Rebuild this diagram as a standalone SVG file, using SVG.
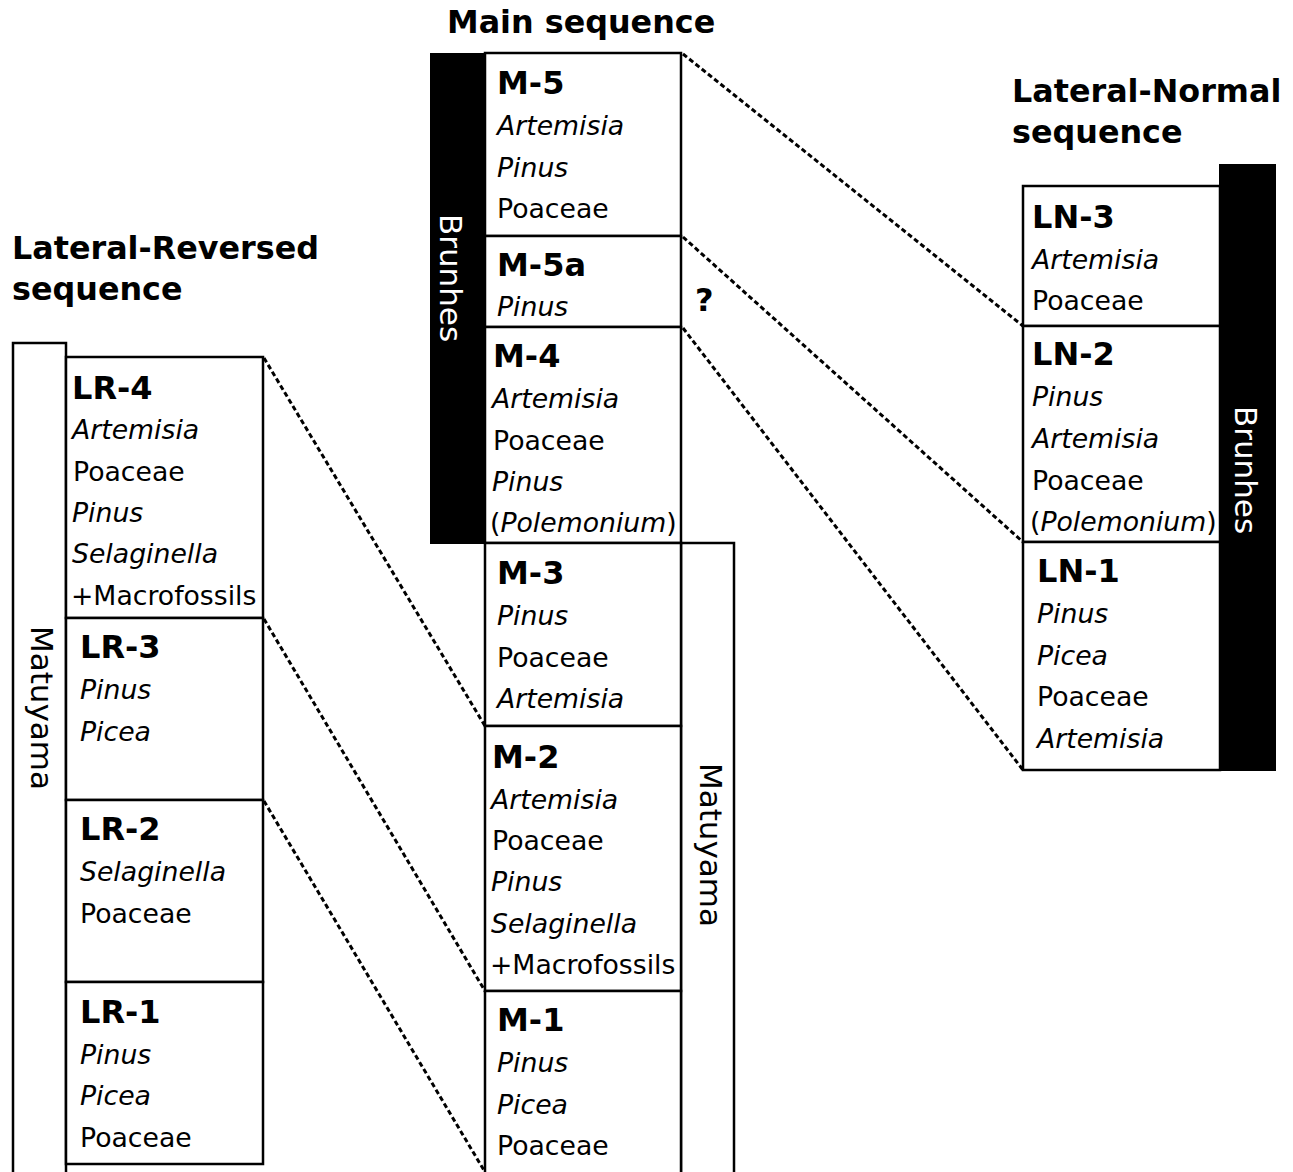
<svg xmlns="http://www.w3.org/2000/svg" width="1293" height="1172" viewBox="0 0 1293 1172">
<style>
text{font-family:"DejaVu Sans",sans-serif;font-size:26.7px;fill:#000}
.t{font-size:31.8px;font-weight:bold}
.h{font-size:32px;font-weight:bold}
.v{font-size:31px}
.i{font-style:italic}
.box{fill:#fff;stroke:#000;stroke-width:2.5}
.bk{fill:#000;stroke:#000;stroke-width:2}
.wt{fill:#fff}
.con line{stroke:#000;stroke-width:3;stroke-dasharray:5 3;fill:none}
</style>
<rect width="1293" height="1172" fill="#fff"/>

<g id="titles">
<text class="t" x="447" y="33">Main sequence</text>
<text class="t" x="12" y="259">Lateral-Reversed</text>
<text class="t" x="12" y="300">sequence</text>
<text class="t" x="1012" y="102">Lateral-Normal</text>
<text class="t" x="1012" y="143">sequence</text>
</g>

<g id="main-brunhes">
<rect class="bk" x="431" y="54" width="54" height="489"/>
<text class="wt v" transform="translate(440,278) rotate(90)" text-anchor="middle">Brunhes</text>
</g>
<g id="main-matuyama">
<rect class="box" x="681" y="543" width="53" height="640"/>
<text class="v" transform="translate(700,845) rotate(90)" text-anchor="middle">Matuyama</text>
</g>

<g id="M-5">
<rect class="box" x="485" y="53" width="196" height="183"/>
<text class="h" x="497" y="94">M-5</text>
<text class="i" x="497" y="135">Artemisia</text>
<text class="i" x="497" y="177">Pinus</text>
<text x="497" y="218">Poaceae</text>
</g>
<g id="M-5a">
<rect class="box" x="485" y="236" width="196" height="91"/>
<text class="h" x="497" y="276">M-5a</text>
<text class="i" x="497" y="316">Pinus</text>
</g>
<g id="M-4">
<rect class="box" x="485" y="327" width="196" height="216"/>
<text class="h" x="493" y="367">M-4</text>
<text class="i" x="492" y="408">Artemisia</text>
<text x="493" y="450">Poaceae</text>
<text class="i" x="492" y="491">Pinus</text>
<text x="490" y="532">(<tspan class="i">Polemonium</tspan>)</text>
</g>
<g id="M-3">
<rect class="box" x="485" y="543" width="196" height="183"/>
<text class="h" x="497" y="584">M-3</text>
<text class="i" x="497" y="625">Pinus</text>
<text x="497" y="667">Poaceae</text>
<text class="i" x="497" y="708">Artemisia</text>
</g>
<g id="M-2">
<rect class="box" x="485" y="726" width="196" height="265"/>
<text class="h" x="492" y="768">M-2</text>
<text class="i" x="491" y="809">Artemisia</text>
<text x="492" y="850">Poaceae</text>
<text class="i" x="491" y="891">Pinus</text>
<text class="i" x="491" y="933">Selaginella</text>
<text x="490" y="974">+Macrofossils</text>
</g>
<g id="M-1">
<rect class="box" x="485" y="991" width="196" height="192"/>
<text class="h" x="497" y="1031">M-1</text>
<text class="i" x="497" y="1072">Pinus</text>
<text class="i" x="497" y="1114">Picea</text>
<text x="497" y="1155">Poaceae</text>
</g>
<text class="h" x="695" y="311" id="q">?</text>

<g id="lr-matuyama">
<rect class="box" x="13" y="343" width="53" height="840"/>
<text class="v" transform="translate(31,708) rotate(90)" text-anchor="middle">Matuyama</text>
</g>
<g id="LR-4">
<rect class="box" x="66" y="357" width="197" height="261"/>
<text class="h" x="72" y="399">LR-4</text>
<text class="i" x="72" y="439">Artemisia</text>
<text x="73" y="481">Poaceae</text>
<text class="i" x="72" y="522">Pinus</text>
<text class="i" x="72" y="563">Selaginella</text>
<text x="71" y="605">+Macrofossils</text>
</g>
<g id="LR-3">
<rect class="box" x="66" y="618" width="197" height="182"/>
<text class="h" x="80" y="658">LR-3</text>
<text class="i" x="80" y="699">Pinus</text>
<text class="i" x="80" y="741">Picea</text>
</g>
<g id="LR-2">
<rect class="box" x="66" y="800" width="197" height="182"/>
<text class="h" x="80" y="840">LR-2</text>
<text class="i" x="80" y="881">Selaginella</text>
<text x="80" y="923">Poaceae</text>
</g>
<g id="LR-1">
<rect class="box" x="66" y="982" width="197" height="182"/>
<text class="h" x="80" y="1023">LR-1</text>
<text class="i" x="80" y="1064">Pinus</text>
<text class="i" x="80" y="1105">Picea</text>
<text x="80" y="1147">Poaceae</text>
</g>

<g id="ln-brunhes">
<rect class="bk" x="1220" y="165" width="55" height="605"/>
<text class="wt v" transform="translate(1235,470) rotate(90)" text-anchor="middle">Brunhes</text>
</g>
<g id="LN-3">
<rect class="box" x="1023" y="186" width="197" height="140"/>
<text class="h" x="1032" y="228">LN-3</text>
<text class="i" x="1032" y="269">Artemisia</text>
<text x="1032" y="310">Poaceae</text>
</g>
<g id="LN-2">
<rect class="box" x="1023" y="326" width="197" height="216"/>
<text class="h" x="1032" y="365">LN-2</text>
<text class="i" x="1032" y="406">Pinus</text>
<text class="i" x="1032" y="448">Artemisia</text>
<text x="1032" y="490">Poaceae</text>
<text x="1030" y="531">(<tspan class="i">Polemonium</tspan>)</text>
</g>
<g id="LN-1">
<rect class="box" x="1023" y="542" width="197" height="228"/>
<text class="h" x="1037" y="582">LN-1</text>
<text class="i" x="1037" y="623">Pinus</text>
<text class="i" x="1037" y="665">Picea</text>
<text x="1037" y="706">Poaceae</text>
<text class="i" x="1037" y="748">Artemisia</text>
</g>

<g id="connectors" class="con">
<line x1="683" y1="54" x2="1023" y2="326"/>
<line x1="683" y1="237" x2="1023" y2="542"/>
<line x1="683" y1="328" x2="1023" y2="770"/>
<line x1="264" y1="358" x2="485" y2="726"/>
<line x1="264" y1="619" x2="485" y2="991"/>
<line x1="264" y1="801" x2="485" y2="1172"/>
</g>
</svg>
